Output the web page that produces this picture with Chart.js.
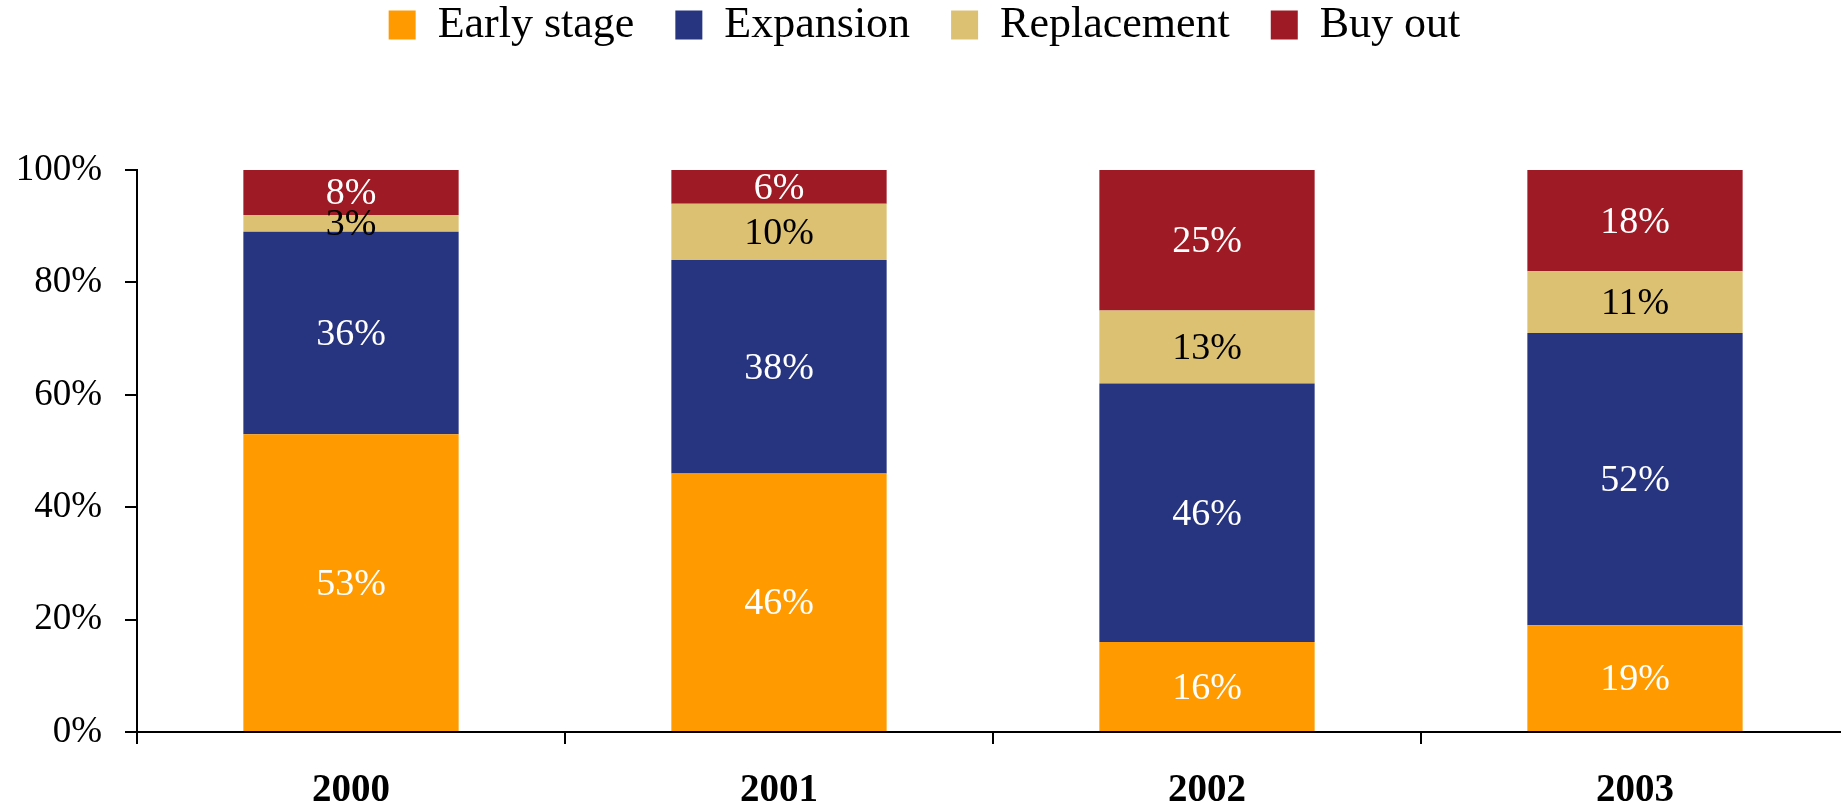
<!DOCTYPE html>
<html>
<head>
<meta charset="utf-8">
<script src="https://cdn.jsdelivr.net/npm/chart.js@4.4.1/dist/chart.umd.min.js"></script>
<style>
  html, body { margin: 0; padding: 0; background: #fff; overflow: hidden; }
  #wrap { width: 1841px; height: 811px; overflow: hidden; }
  canvas { display: block; }
</style>
</head>
<body>
<div id="wrap">
<canvas id="stageChart" width="1849" height="811"></canvas>
</div>
<script>
const years = ['2000', '2001', '2002', '2003'];
const earlyStage = [53, 46, 16, 19];
const expansion = [36, 38, 46, 52];
const replacement = [3, 10, 13, 11];
const buyOut = [8, 6, 25, 18];
const yTicks = [0, 20, 40, 60, 80, 100];

const serif = '"Liberation Serif", "Times New Roman", serif';

// Percent labels in the middle of each stacked segment
const segmentLabels = {
    id: 'segmentLabels',
    afterDatasetsDraw(chart) {
        const ctx = chart.ctx;
        ctx.save();
        ctx.font = '38px ' + serif;
        ctx.textAlign = 'center';
        ctx.textBaseline = 'middle';
        chart.data.datasets.forEach((ds, i) => {
            const meta = chart.getDatasetMeta(i);
            meta.data.forEach((bar, j) => {
                const p = bar.getProps(['x', 'y', 'base'], true);
                ctx.fillStyle = ds.labelColor;
                ctx.fillText(ds.data[j] + '%', p.x, (p.y + p.base) / 2 + 2);
            });
        });
        ctx.restore();
    }
};

// Extra space below the legend
const legendSpace = {
    id: 'legendSpace',
    beforeInit(chart) {
        const fit = chart.legend.fit;
        chart.legend.fit = function() {
            fit.bind(chart.legend)();
            this.height += 113;
        };
    }
};

new Chart(document.getElementById('stageChart'), {
    type: 'bar',
    data: {
        labels: years,
        datasets: [
            { label: 'Early stage', data: earlyStage, backgroundColor: '#FF9B00', labelColor: '#fff' },
            { label: 'Expansion', data: expansion, backgroundColor: '#27347F', labelColor: '#fff' },
            { label: 'Replacement', data: replacement, backgroundColor: '#DCC173', labelColor: '#000' },
            { label: 'Buy out', data: buyOut, backgroundColor: '#9E1B25', labelColor: '#fff' }
        ]
    },
    options: {
        responsive: false,
        animation: false,
        devicePixelRatio: 1,
        categoryPercentage: 1,
        barPercentage: 0.503,
        layout: { padding: { top: -38, left: 0, right: 0, bottom: 0 } },
        plugins: {
            legend: {
                position: 'top',
                labels: {
                    boxWidth: 27,
                    boxHeight: 29,
                    padding: 41,
                    color: '#000',
                    font: { family: serif, size: 44 }
                }
            },
            tooltip: { enabled: false }
        },
        scales: {
            x: {
                stacked: true,
                grid: {
                    offset: true,
                    drawOnChartArea: false,
                    drawTicks: true,
                    tickLength: 12,
                    color: '#000',
                    lineWidth: 2
                },
                border: { display: true, color: '#000', width: 2 },
                ticks: {
                    color: '#000',
                    padding: 24,
                    font: { family: serif, size: 39, weight: 'bold' }
                },
                afterFit(scale) { scale.height = 79; }
            },
            y: {
                stacked: true,
                min: 0,
                max: 100,
                afterBuildTicks(scale) {
                    scale.ticks = yTicks.map(v => ({ value: v }));
                },
                grid: {
                    drawOnChartArea: false,
                    drawTicks: true,
                    tickLength: 12,
                    color: '#000',
                    lineWidth: 2
                },
                border: { display: true, color: '#000', width: 2 },
                ticks: {
                    color: '#000',
                    padding: 23,
                    font: { family: serif, size: 37 },
                    callback: v => v + '%'
                },
                afterFit(scale) { scale.width = 137; }
            }
        }
    },
    plugins: [segmentLabels, legendSpace]
});
</script>
</body>
</html>
